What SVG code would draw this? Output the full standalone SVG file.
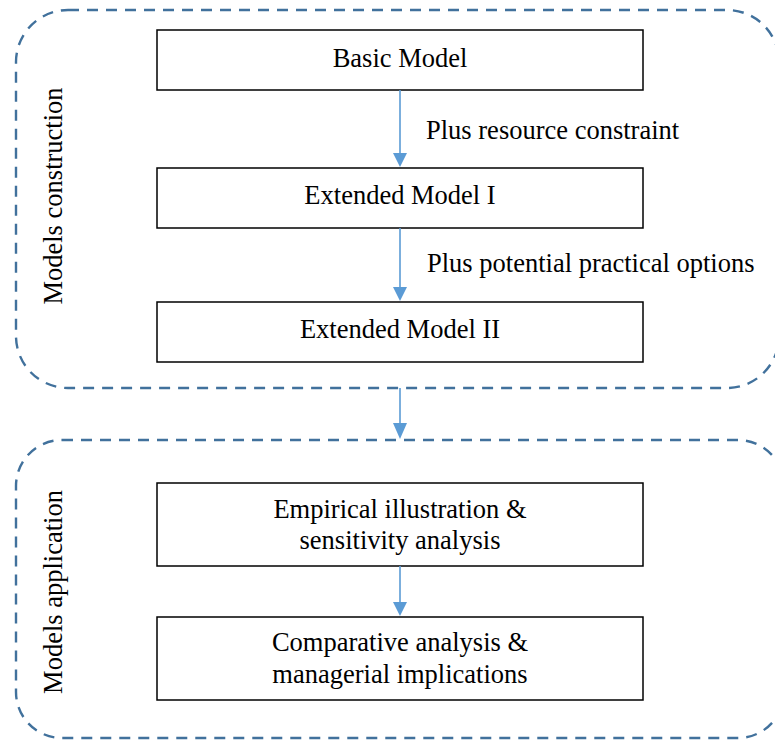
<svg xmlns="http://www.w3.org/2000/svg" width="775" height="740" viewBox="0 0 775 740">
  <style>
    .group-frame { fill: none; stroke: #41719C; stroke-width: 2.4; stroke-dasharray: 11 8; }
    .box { fill: #ffffff; stroke: #000000; stroke-width: 1.5; }
    .label { font-family: "Liberation Serif", "Times New Roman", serif; font-size: 26.5px; fill: #000000; }
    .mid { text-anchor: middle; }
    .link { stroke: #5B9BD5; stroke-width: 1.6; fill: none; }
    .head { fill: #5B9BD5; }
  </style>
  <rect width="775" height="740" fill="#ffffff"/>

  <!-- Phase containers -->
  <g id="models-construction">
    <rect class="group-frame" x="16" y="10" width="763" height="378" rx="52" ry="52"/>
    <text class="label mid" transform="translate(62 196) rotate(-90)">Models construction</text>
  </g>
  <g id="models-application">
    <rect class="group-frame" x="16" y="440" width="768" height="298" rx="46" ry="46"/>
    <text class="label mid" transform="translate(62 592) rotate(-90)">Models application</text>
  </g>

  <!-- Process steps -->
  <g id="basic-model">
    <rect class="box" x="157" y="30" width="486" height="60"/>
    <text class="label mid" x="400" y="67">Basic Model</text>
  </g>
  <g id="extended-model-1">
    <rect class="box" x="157" y="168" width="486" height="60"/>
    <text class="label mid" x="400" y="204">Extended Model I</text>
  </g>
  <g id="extended-model-2">
    <rect class="box" x="157" y="302" width="486" height="60"/>
    <text class="label mid" x="400" y="338">Extended Model II</text>
  </g>
  <g id="empirical-illustration">
    <rect class="box" x="157" y="483" width="486" height="83"/>
    <text class="label mid" x="400" y="518">Empirical illustration &amp;</text>
    <text class="label mid" x="400" y="549">sensitivity analysis</text>
  </g>
  <g id="comparative-analysis">
    <rect class="box" x="157" y="617" width="486" height="83"/>
    <text class="label mid" x="400" y="651">Comparative analysis &amp;</text>
    <text class="label mid" x="400" y="683">managerial implications</text>
  </g>

  <!-- Connectors -->
  <g id="connectors">
    <line class="link" x1="400" y1="90" x2="400" y2="154"/>
    <polygon class="head" points="393,153 407,153 400,167"/>
    <text class="label" x="426" y="139">Plus resource constraint</text>

    <line class="link" x1="400" y1="228" x2="400" y2="288"/>
    <polygon class="head" points="393,287 407,287 400,301"/>
    <text class="label" x="427" y="272">Plus potential practical options</text>

    <line class="link" x1="400" y1="388" x2="400" y2="425"/>
    <polygon class="head" points="393,423 407,423 400,439"/>

    <line class="link" x1="400" y1="566" x2="400" y2="603"/>
    <polygon class="head" points="393,602 407,602 400,616"/>
  </g>
</svg>
